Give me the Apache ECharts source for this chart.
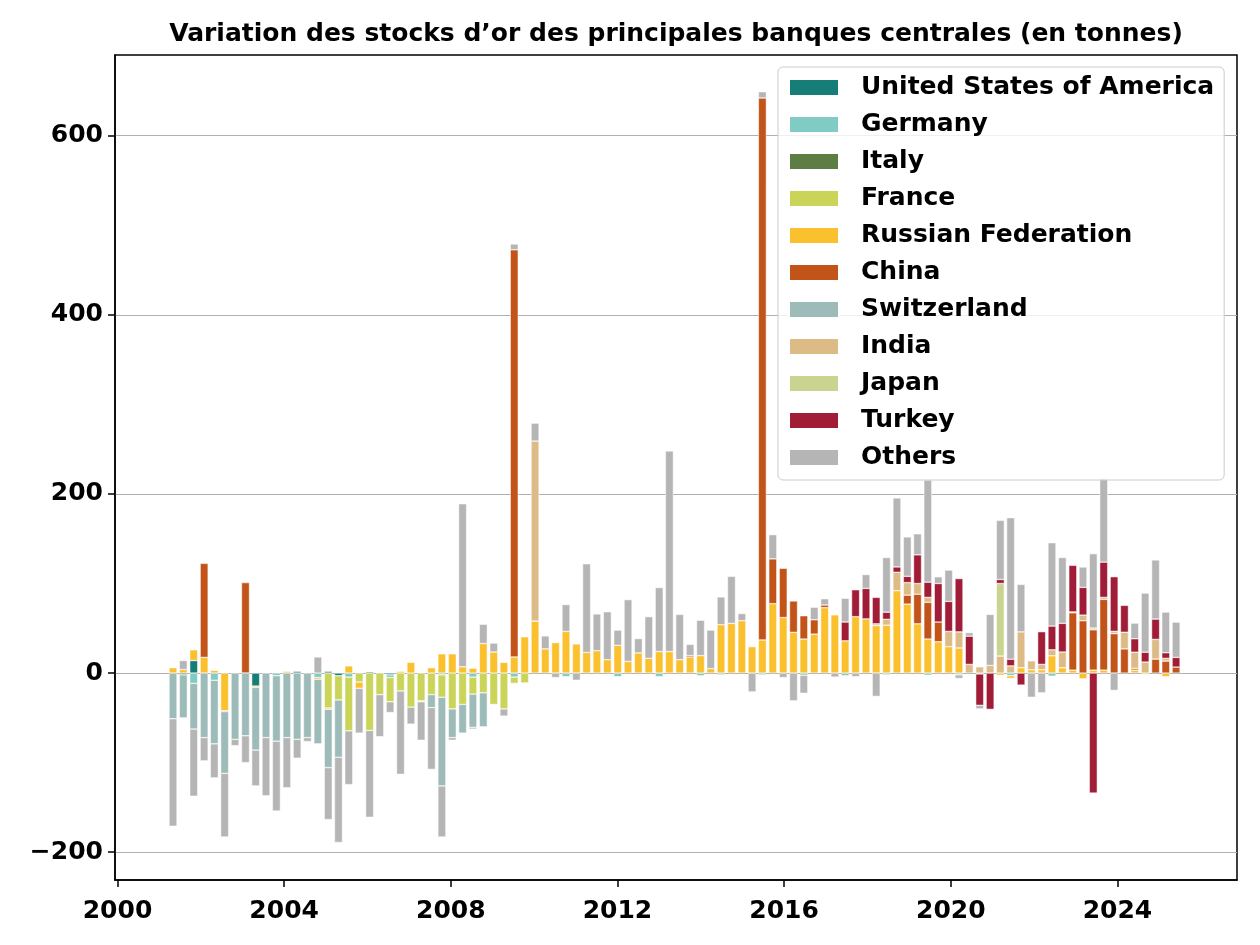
<!DOCTYPE html>
<html>
<head>
<meta charset="utf-8">
<script src="https://cdn.jsdelivr.net/npm/echarts@6/dist/echarts.min.js"></script>
<style>
  html, body { margin: 0; padding: 0; background: #fff; }
  #chart { width: 1260px; height: 945px; }
</style>
</head>
<body>
<div id="chart"></div>
<script>
// quarters 2001-Q1 .. 2025-Q2, one bar per quarter (placed at quarter end)
const quarters = [];
for (let y = 2001; y <= 2025; y++) {
  for (let q = 1; q <= 4; q++) {
    if (y === 2025 && q > 2) break;
    quarters.push(y + '-Q' + q);
  }
}

const yearTicks = [2000, 2004, 2008, 2012, 2016, 2020, 2024];
const valueTicks = [-200, 0, 200, 400, 600];

// tonnes per quarter, one line per year (2001 .. 2025)
const usa = [
  0, -2, 14, 0,   0, 0, 0, 0,   -14.5, 0, 0, 0,   2, 0, 0, 2,
  -3, 0, 0, 1.5,   0, -2, 0, 0,   0, 0, 0, 0,   0, 0, 0, 0,
  0, 0, 0, 0,   0, 0, 0, 0,   0, 0, 0, 0,   0, 0, 0, 0,
  0, 0, 0, 0,   0, 0, 0, 0,   0, 0, 0, 0,   0, 0, 0, 0,
  0, 0, 0, 0,   0, 0, 0, 0,   0, 0, 0, 0,   0, 0, 0, 0,
  0, 0, 0, 0,   0, 0, 0, 0,   0, 0, 0, 0,   0, 0, 0, 0,
  0, 0
];
const germany = [
  0, 0, -11.5, 0,   -8, 0, 0, 0,   0, 0, -3, 0,   0, 0, -5, 0,
  0, -4.5, 0, 0,   0, -3, 0, 0,   0, 0, -2, 0,   0, -4.5, 0, 0,
  0, -4.5, 0, 0,   0, 0, -4, 0,   0, 0, 0, -4,   0, 0, 0, -4,
  0, 0, 0, -3,   0, -2, 0, 0,   0, -2, 0, 0,   0, -2.5, 0, 0,
  0, -3, 0, 0,   0, -2, 0, 0,   0, -2.5, 0, 0,   -2, 0, 0, 0,
  0, -3, 0, 0,   0, -3.5, 0, 0,   0, 0, 0, 0,   0, 0, 0, 0,
  0, 0
];
const italy = [
  0, 0, 0, 0,   0, 0, 0, 0,   0, 0, 0, 0,   0, 0, 0, 0,
  0, 0, 0, 0,   0, 0, 0, 0,   0, 0, 0, 0,   0, 0, 0, 0,
  0, 0, 0, 0,   0, 0, 0, 0,   0, 0, 0, 0,   0, 0, 0, 0,
  0, 0, 0, 0,   0, 0, 0, 0,   0, 0, 0, 0,   0, 0, 0, 0,
  0, 0, 0, 0,   0, 0, 0, 0,   0, 0, 0, 0,   0, 0, 0, 0,
  0, 0, 0, 0,   0, 0, 0, 0,   0, 0, 0, 0,   0, 0, 0, 0,
  0, 0
];
const france = [
  0, 0, 0, 0,   0, 0, 0, 0,   0, 0, 0, 0,   0, 0, 0, -39,
  -27, -60, -10, -64,   -24, -27, -20, -38,   -31, -24, -25, -40,   -35, -19, -22, -35,
  -40, -7, -11, 0,   0, 0, 0, 0,   0, 0, 0, 0,   0, 0, 0, 0,
  0, 0, 0, 0,   0, 0, 0, 0,   0, 0, 0, 0,   0, 0, 0, 0,
  0, 0, 0, 0,   0, 0, 0, 0,   0, 0, 0, 0,   0, 0, 0, 0,
  0, 0, 0, 0,   0, 0, 0, 0,   0, 0, 0, 0,   0, 0, 0, 0,
  0, 0
];
const russia = [
  6, 4, 12, 17.5,   3, -42, 0, 0,   -1.5, 0, 0, 2,   0, 0, -2, -1.5,
  0, 8, -7, 0,   0, 0, 2, 12,   -1, 6, 21.5, 21.5,   7, 5.5, 33, 23.5,
  12, 18, 40.5, 58,   27, 34, 46.5, 32.5,   23, 25, 15, 31,   13, 22.5, 16.5, 24,
  24, 15, 18, 19.5,   5, 54, 55.5, 58.5,   29.5, 37, 77.5, 62,   45.5, 38, 43.5, 73,
  65, 36, 63, 60.5,   53, 53.5, 92, 77,   55, 38, 35, 29.5,   28, 0, -1, 0,
  -2.5, -3, 6, 3.7,   3.7, 19.3, 6, 3.3,   -6.3, 3.3, 3.3, 0,   0, 3.3, -1.5, 0,
  -4, 0
];
const china = [
  0, 0, 0, 105,   0, -1, 0, 101,   0, 0, 0, 0,   0, 0, 0, 0,
  0, 0, 0, 0,   0, 0, 0, 0,   0, 0, 0, 0,   0, 0, 0, 0,
  0, 454.5, 0, 0,   0, 0, 0, 0,   0, 0, 0, 0,   0, 0, 0, 0,
  0, 0, 0, 0,   0, 0, 0, 0,   0, 605, 50, 55,   35, 26, 16, 3,
  0, 0, 0, 0,   0, 0, 0, 10,   33, 41, 22, 0,   0, 0, 0, 0,
  0, 0, 0, 0,   0, 0, 0, 64,   58.4, 45, 79, 44,   27, 2, 0, 15.6,
  13.4, 6.7
];
const switzerland = [
  -51, -48, -51, -72,   -71, -69, -74, -70,   -70, -72, -73, -72,   -74, -72, -72, -65,
  -64, 0, 0, 0,   0, 0, 0, 0,   0, -14.5, -99, -32,   -32, -37, -38, 0,
  0, 0, 0, 0,   0, 0, 0, 0,   0, 0, 0, 0,   0, 0, 0, 0,
  0, 0, 0, 0,   0, 0, 0, 0,   0, 0, 0, 0,   0, 0, 0, 0,
  0, 0, 0, 0,   0, 0, 0, 0,   0, 0, 0, 0,   0, 0, 0, 0,
  0, 0, 0, 0,   0, 0, 0, 0,   0, 0, 0, 0,   0, 0, 0, 0,
  0, 0
];
const india = [
  0, 0, 0, 0,   0, 0, 0, 0,   0, 0, 0, 0,   0, 0, 0, 0,
  0, 0, 0, 0,   0, 0, 0, 0,   0, 0, 0, 0,   0, 0, 0, 0,
  0, 0, 0, 201,   0, 0, 0, 0,   0, 0, 0, 0,   0, 0, 0, 0,
  0, 0, 0, 0,   0, 0, 0, 0,   0, 0, 0, 0,   0, 0, 0, 0,
  0, 0, 0, 0,   2, 6.5, 20.5, 14,   12, 5.5, 0, 17,   18, 9.7, 7, 8.5,
  19, 8, 40, 10,   6, 6.7, 17.5, 1,   6.3, 2, 2.2, 2.6,   18.6, 18, 12.3, 22,
  3, 0
];
const japan = [
  0, 0, 0, 0,   0, 0, 0, 0,   0, 0, 0, 0,   0, 0, 0, 0,
  0, 0, 0, 0,   0, 0, 0, 0,   0, 0, 0, 0,   0, 0, 0, 0,
  0, 0, 0, 0,   0, 0, 0, 0,   0, 0, 0, 0,   0, 0, 0, 0,
  0, 0, 0, 0,   0, 0, 0, 0,   0, 0, 0, 0,   0, 0, 0, 0,
  0, 0, 0, 0,   0, 0, 0, 0,   0, 0, 0, 0,   0, 0, 0, 0,
  81, 0, 0, 0,   0, 0, 0, 0,   0, 0, 0, 0,   0, 0, 0, 0,
  0, 0
];
const turkey = [
  0, 0, 0, 0,   0, 0, 0, 0,   0, 0, 0, 0,   0, 0, 0, 0,
  0, 0, 0, 0,   0, 0, 0, 0,   0, 0, 0, 0,   0, 0, 0, 0,
  0, 0, 0, 0,   0, 0, 0, 0,   0, 0, 0, 0,   0, 0, 0, 0,
  0, 0, 1.5, 0,   0, 0, 0, 0,   0, 0, 0, 0,   0, 0, 0, 0,
  0, 21, 30, 34,   29.5, 8, 6, 7,   32, 17, 43, 33.5,   59.5, 31.5, -35, -40.5,
  4.5, 7.5, -13.4, 0,   36.5, 26.5, 32, 52,   31, -134, 39.4, 61,   30, 15, 11, 22.7,
  6.3, 10.8
];
const others = [
  -120, 10, -75, -26,   -38, -71, -7, -30,   -40, -65, -78, -56,   -21, -4.5, 18, -58,
  -95, -60, -50, -97,   -47, -12, -93, -19,   -43, -69, -57, -3,   182, -2, 21.5, 10,
  -8, 6.5, 0, 20,   14.5, -5, 30, -8,   99, 41, 53.5, 17,   69, 16, 46.5, 71.5,
  224, 50.5, 12.5, 39.5,   43, 31, 52.5, 8,   -21, 7, 27, -5,   -31, -20, 14, 7,
  -4.5, 26.5, -4, 15.5,   -26, 61, 77, 44,   23.5, 114, 7.5, 35,   -4, 4, -4, 57,
  66, 158, 53, -27,   -22, 93, 73.5, 0,   22.7, 83, 93.7, -19.3,   0, 17.5, 66, 66,
  45.4, 39.4
];

const FONT = 'DejaVu Sans';
const X_MIN = 1999.94;
const X_MAX = 2026.87;

// decimal year -> timestamp
const yearToTime = (dec) => {
  const y = Math.floor(dec);
  const a = Date.UTC(y, 0, 1);
  const b = Date.UTC(y + 1, 0, 1);
  return a + (dec - y) * (b - a);
};
// '2001-Q1' -> last day of the quarter
const quarterEnd = (label) => {
  const y = +label.slice(0, 4);
  const q = +label.slice(6);
  return Date.UTC(y, 3 * q, 0);
};
const xTimes = quarters.map(quarterEnd);

const seriesList = [
  { name: 'United States of America', values: usa, color: '#177e77' },
  { name: 'Germany', values: germany, color: '#80cbc3' },
  { name: 'Italy', values: italy, color: '#5d7d45' },
  { name: 'France', values: france, color: '#c9d458' },
  { name: 'Russian Federation', values: russia, color: '#fbc02d' },
  { name: 'China', values: china, color: '#c25419' },
  { name: 'Switzerland', values: switzerland, color: '#9dbbb8' },
  { name: 'India', values: india, color: '#ddbb86' },
  { name: 'Japan', values: japan, color: '#cbd390' },
  { name: 'Turkey', values: turkey, color: '#a01c37' },
  { name: 'Others', values: others, color: '#b5b5b5' },
];

const chart = echarts.init(document.getElementById('chart'), null, { renderer: 'canvas' });

const tickFont = {
  fontFamily: FONT,
  fontWeight: 'bold',
  fontSize: 25,
  color: '#000',
};

const option = {
  animation: false,
  backgroundColor: '#fff',
  title: {
    text: 'Variation des stocks d’or des principales banques centrales (en tonnes)',
    left: 676,
    top: 22,
    padding: 0,
    textAlign: 'center',
    textStyle: {
      fontFamily: FONT,
      fontWeight: 'bold',
      fontSize: 25,
      lineHeight: 25,
      color: '#000',
    },
  },
  legend: {
    orient: 'vertical',
    left: 778,
    top: 67,
    padding: [8, 10, 10, 10],
    itemWidth: 50,
    itemHeight: 17,
    itemGap: 12,
    selectedMode: false,
    backgroundColor: 'rgba(255,255,255,0.8)',
    borderColor: '#cccccc',
    borderWidth: 1,
    borderRadius: 5,
    textStyle: {
      fontFamily: FONT,
      fontWeight: 'bold',
      fontSize: 25,
      lineHeight: 25,
      color: '#000',
      padding: [0, 0, 0, 17],
    },
    data: seriesList.map((s) => ({ name: s.name, icon: 'rect' })),
  },
  grid: {
    left: 115,
    right: 23,
    top: 55,
    bottom: 65,
    show: true,
    borderColor: '#000',
    borderWidth: 1.5,
    backgroundColor: 'transparent',
  },
  xAxis: [
    {
      // time axis carrying the bars
      type: 'time',
      min: yearToTime(X_MIN),
      max: yearToTime(X_MAX),
      axisLine: { show: false },
      axisTick: { show: false },
      axisLabel: { show: false },
      splitLine: { show: false },
    },
    {
      // decimal-year axis for the ticks and labels
      type: 'value',
      position: 'bottom',
      min: X_MIN,
      max: X_MAX,
      axisLine: { onZero: false, lineStyle: { color: '#000', width: 1.5 } },
      axisTick: {
        show: true,
        length: 7,
        lineStyle: { color: '#000', width: 1.5 },
        customValues: yearTicks,
      },
      axisLabel: Object.assign({
        customValues: yearTicks,
        formatter: (v) => String(v),
        margin: 19,
      }, tickFont),
      splitLine: { show: false },
    },
  ],
  yAxis: {
    type: 'value',
    min: -231,
    max: 690,
    axisLine: { show: true, onZero: false, lineStyle: { color: '#000', width: 1.5 } },
    axisTick: {
      show: true,
      length: 7,
      lineStyle: { color: '#000', width: 1.5 },
      customValues: valueTicks,
    },
    axisLabel: Object.assign({
      customValues: valueTicks,
      formatter: (v) => String(v).replace('-', '\u2212'),
      margin: 12,
    }, tickFont),
    splitLine: { show: true, lineStyle: { color: '#b0b0b0', width: 1.2 } },
  },
  series: seriesList.map((s) => ({
    name: s.name,
    type: 'bar',
    stack: 'total',
    xAxisIndex: 0,
    barWidth: 8,
    itemStyle: { color: s.color, borderColor: '#fff', borderWidth: 0.5 },
    emphasis: { disabled: true },
    data: s.values.map((v, i) => [xTimes[i], v === 0 ? null : v]),
  })),
};

chart.setOption(option);
</script>
</body>
</html>
